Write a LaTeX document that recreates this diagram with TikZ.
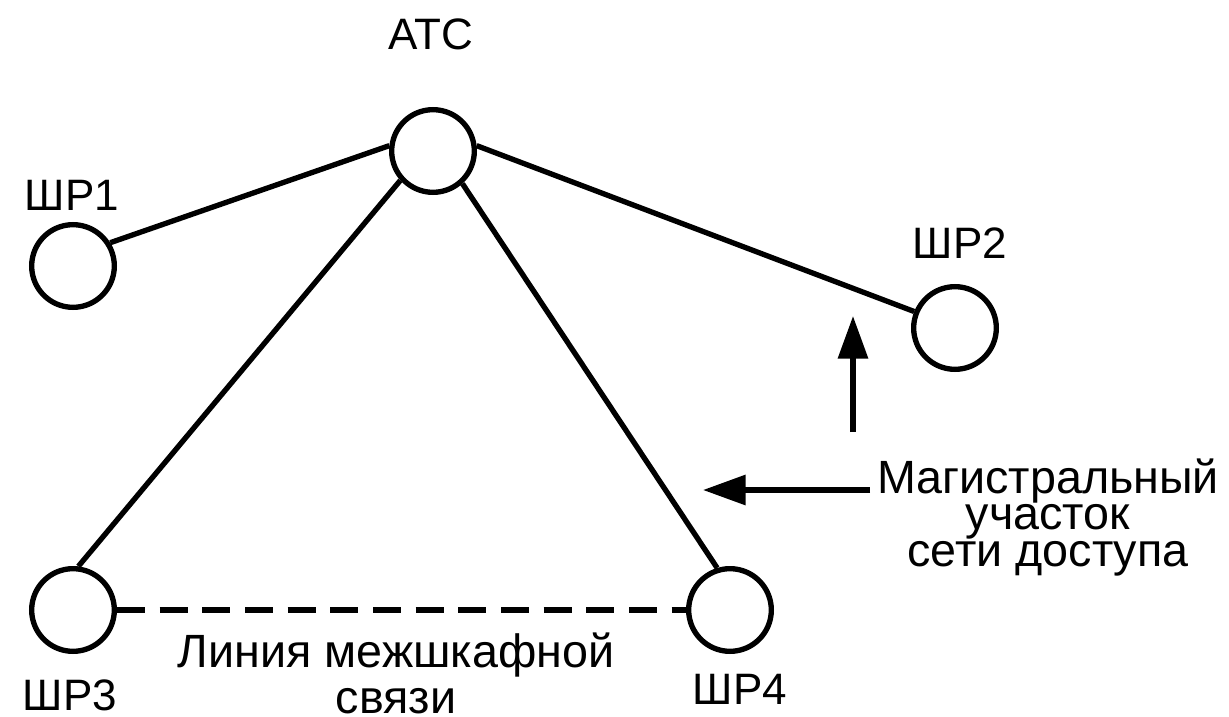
\documentclass[tikz,border=0pt]{standalone}
\usepackage{fontspec}
\setmainfont{Liberation Sans}
\usetikzlibrary{arrows.meta}

\begin{document}
\begin{tikzpicture}[x=0.75pt,y=0.75pt,yscale=-1,xscale=1,
  shr/.style={circle,draw,line width=4pt,minimum size=62pt,inner sep=0pt},
  lbl/.style={font=\fontsize{33}{40}\selectfont,inner sep=0pt,anchor=base},
  link/.style={line width=4pt},
  ptr/.style={line width=4pt,-{Triangle[length=32pt,width=22pt]}}]
\useasboundingbox (0,0) rectangle (1229,717);

%Circles
\node [shr] (atc) at (433,151) {};
\node [shr] (shr1) at (73,266) {};
\node [shr] (shr2) at (955,328) {};
\node [shr] (shr3) at (73,610) {};
\node [shr] (shr4) at (730,610) {};

%Straight Lines
\draw [link] (atc.173) -- (shr1.32);
\draw [link] (atc.7) -- (shr2.158);
\draw [link] (atc.222) -- (shr3.83);
\draw [link] (atc.312) -- (shr4.107);
%Dashed line
\draw [link, dash pattern={on 21pt off 11pt}] (shr3) -- (shr4);

% Text Node
\node [lbl] (atclbl) at (431,50) {АТС};
\node [lbl] (shr1lbl) at (72,210) {ШР1};
\node [lbl] (shr2lbl) at (960,258) {ШР2};
\node [lbl] (shr3lbl) at (70,710) {ШР3};
\node [lbl] (shr4lbl) at (740,704) {ШР4};
% last line on the base anchor
\node [lbl, align=center, font=\fontsize{35}{34.5}\selectfont] (mezhlbl) at (396,713) {Линия межшкафной\\связи};
\node [lbl, align=center, font=\fontsize{35}{25.5}\selectfont] (maglbl) at (1048,566) {Магистральный\\участок\\сети доступа};

%Arrows
\coordinate (vtail) at (853,432);
\coordinate (vtip) at (853,316);
\draw [ptr] (vtail) -- (vtip);
\coordinate (htip) at (703,490);
\draw [ptr] ([xshift=-5pt]maglbl.west |- htip) -- (htip);

\end{tikzpicture}
\end{document}
